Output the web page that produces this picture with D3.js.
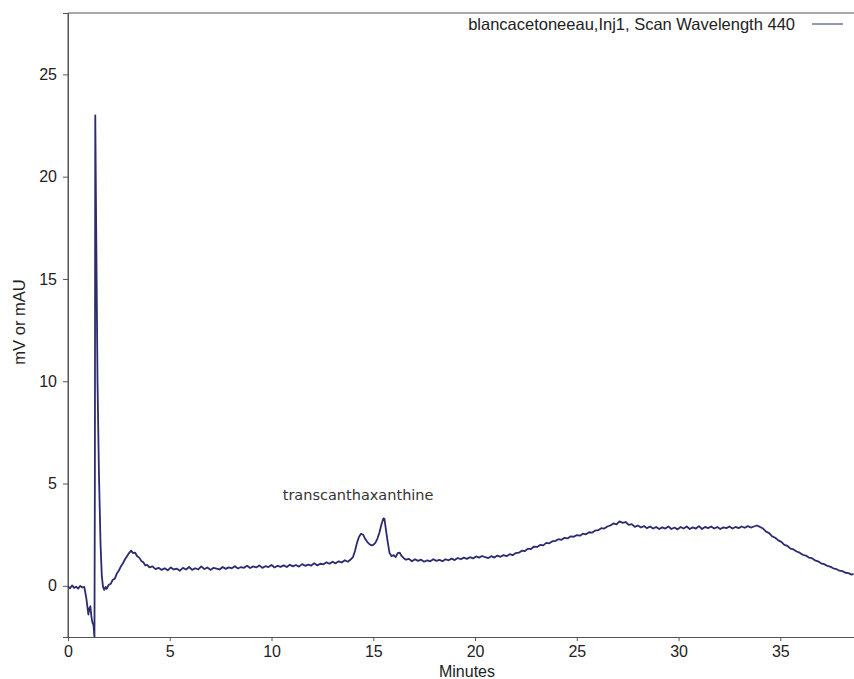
<!DOCTYPE html>
<html>
<head>
<meta charset="utf-8">
<script src="https://cdn.jsdelivr.net/npm/d3@7"></script>
<style>
  body { margin: 0; background: #fff; }
  svg { display: block; }
  .axis text { font-family: "Liberation Sans", Arial, sans-serif; font-size: 16px; fill: #222; }
  .axis path, .axis line { stroke: #555; }
</style>
</head>
<body>
<svg id="chart" width="854" height="679"></svg>
<script>
const xTicks = [0, 5, 10, 15, 20, 25, 30, 35];
const yTicks = [0, 5, 10, 15, 20, 25];
const xDomain = [0, 38.62];
const yDomain = [-2.5, 28];
const seriesName = "blancacetoneeau,Inj1, Scan Wavelength 440";
const peakLabel = "transcanthaxanthine";

// [minutes, mV]
const injection = [
  [0, -0.02], [0.1, -0.12], [0.2, 0.02], [0.3, -0.1], [0.4, -0.04], [0.5, -0.14],
  [0.6, 0.0], [0.7, -0.08], [0.8, -0.05], [0.9, -0.6], [1.0, -1.4], [1.05, -1.1],
  [1.1, -1.0], [1.15, -1.5], [1.2, -1.8], [1.25, -1.9], [1.3, -2.5], [1.32, 5],
  [1.34, 23.0], [1.38, 18], [1.45, 10], [1.52, 5.5], [1.6, 2], [1.66, 0.5],
  [1.72, -0.05], [1.78, -0.2], [1.85, -0.05], [1.9, -0.15], [2.0, 0.05]
];
const solventBump = [
  [2.1, 0.1], [2.2, 0.3], [2.3, 0.35], [2.4, 0.6], [2.5, 0.75], [2.6, 0.95], [2.7, 1.1],
  [2.8, 1.3], [2.9, 1.45], [3.0, 1.6], [3.1, 1.72], [3.2, 1.6], [3.3, 1.62], [3.4, 1.45],
  [3.5, 1.38], [3.6, 1.22], [3.7, 1.15], [3.8, 1.0], [3.9, 1.02], [4.0, 0.9], [4.15, 0.95],
  [4.3, 0.82]
];
const baseline = [
  [4.45, 0.88], [4.6, 0.78], [4.75, 0.86], [4.9, 0.76], [5.05, 0.9], [5.2, 0.8], [5.35, 0.84],
  [5.5, 0.74], [5.65, 0.88], [5.8, 0.8], [5.95, 0.92], [6.1, 0.78], [6.25, 0.86], [6.4, 0.8],
  [6.55, 0.95], [6.7, 0.82], [6.85, 0.9], [7.0, 0.78], [7.15, 0.88], [7.3, 0.84], [7.45, 0.8],
  [7.6, 0.92], [7.75, 0.83], [7.9, 0.9], [8.05, 0.86], [8.2, 0.96], [8.35, 0.85], [8.5, 0.92],
  [8.65, 0.88], [8.8, 0.98], [8.95, 0.87], [9.1, 0.95], [9.25, 0.9], [9.4, 1.0], [9.55, 0.88],
  [9.7, 0.96], [9.85, 0.92], [10.0, 1.02], [10.15, 0.9], [10.3, 0.98], [10.45, 0.93], [10.6, 1.0],
  [10.75, 0.92], [10.9, 1.03], [11.05, 0.95], [11.2, 1.02], [11.35, 0.94], [11.5, 1.06],
  [11.65, 0.98], [11.8, 1.04], [11.95, 0.99], [12.1, 1.1], [12.25, 1.0], [12.4, 1.08],
  [12.55, 1.05], [12.7, 1.15], [12.85, 1.08], [13.0, 1.18], [13.15, 1.1], [13.3, 1.2],
  [13.45, 1.14], [13.6, 1.25], [13.75, 1.18], [13.9, 1.3]
];
const carotenoidPeaks = [
  [14.0, 1.4], [14.1, 1.7], [14.2, 2.1], [14.3, 2.4], [14.4, 2.55], [14.5, 2.5], [14.6, 2.3],
  [14.7, 2.15], [14.8, 2.05], [14.9, 1.98], [15.0, 2.0], [15.1, 2.1], [15.2, 2.3], [15.3, 2.6],
  [15.4, 3.0], [15.5, 3.3], [15.55, 3.28], [15.6, 2.9], [15.7, 2.2], [15.8, 1.6], [15.9, 1.45],
  [16.0, 1.5], [16.1, 1.4], [16.2, 1.6], [16.3, 1.62], [16.4, 1.45], [16.5, 1.35], [16.6, 1.28]
];
const gradient = [
  [16.75, 1.32], [16.9, 1.2], [17.05, 1.3], [17.2, 1.22], [17.35, 1.28], [17.5, 1.18],
  [17.65, 1.25], [17.8, 1.2], [17.95, 1.3], [18.1, 1.22], [18.25, 1.27], [18.4, 1.2],
  [18.55, 1.3], [18.7, 1.25], [18.85, 1.33], [19.0, 1.26], [19.15, 1.36], [19.3, 1.3],
  [19.45, 1.38], [19.6, 1.32], [19.75, 1.4], [19.9, 1.34], [20.05, 1.44], [20.2, 1.38],
  [20.35, 1.46], [20.5, 1.4], [20.65, 1.36], [20.8, 1.45], [20.95, 1.38], [21.1, 1.48],
  [21.25, 1.42], [21.4, 1.5], [21.55, 1.45], [21.7, 1.55], [21.85, 1.5], [22.0, 1.6],
  [22.15, 1.62], [22.3, 1.72], [22.45, 1.7], [22.6, 1.82], [22.75, 1.8], [22.9, 1.92],
  [23.05, 1.9], [23.2, 2.0], [23.35, 1.98], [23.5, 2.1], [23.65, 2.08], [23.8, 2.18],
  [23.95, 2.2], [24.1, 2.28], [24.25, 2.25], [24.4, 2.35], [24.55, 2.32], [24.7, 2.42],
  [24.85, 2.4], [25.0, 2.48], [25.15, 2.45], [25.3, 2.55], [25.45, 2.52], [25.6, 2.62],
  [25.75, 2.6], [25.9, 2.7], [26.05, 2.72], [26.2, 2.82], [26.35, 2.8], [26.5, 2.9],
  [26.65, 2.95], [26.8, 3.05], [26.95, 3.0], [27.1, 3.15], [27.25, 3.08], [27.4, 3.12]
];
const plateau = [
  [27.55, 2.98], [27.7, 3.02], [27.85, 2.88], [28.0, 2.95], [28.15, 2.85], [28.3, 2.92],
  [28.45, 2.82], [28.6, 2.9], [28.75, 2.8], [28.9, 2.88], [29.05, 2.78], [29.2, 2.86],
  [29.35, 2.8], [29.5, 2.9], [29.65, 2.78], [29.8, 2.85], [29.95, 2.76], [30.1, 2.88],
  [30.25, 2.8], [30.4, 2.9], [30.55, 2.78], [30.7, 2.86], [30.85, 2.8], [31.0, 2.92],
  [31.15, 2.78], [31.3, 2.88], [31.45, 2.82], [31.6, 2.9], [31.75, 2.8], [31.9, 2.88],
  [32.05, 2.78], [32.2, 2.86], [32.35, 2.82], [32.5, 2.9], [32.65, 2.8], [32.8, 2.88],
  [32.95, 2.82], [33.1, 2.9], [33.25, 2.84], [33.4, 2.92], [33.55, 2.85], [33.7, 2.9],
  [33.85, 2.95], [34.0, 2.88]
];
const washout = [
  [34.15, 2.8], [34.3, 2.65], [34.45, 2.58], [34.6, 2.42], [34.75, 2.35], [34.9, 2.22],
  [35.05, 2.15], [35.2, 2.0], [35.35, 1.95], [35.5, 1.82], [35.65, 1.78], [35.8, 1.68],
  [35.95, 1.62], [36.1, 1.52], [36.25, 1.48], [36.4, 1.38], [36.55, 1.35], [36.7, 1.25],
  [36.85, 1.2], [37.0, 1.1], [37.15, 1.06], [37.3, 0.98], [37.45, 0.94], [37.6, 0.86],
  [37.75, 0.82], [37.9, 0.74], [38.05, 0.72], [38.2, 0.64], [38.35, 0.62], [38.5, 0.55],
  [38.6, 0.58]
];

const margin = {top: 13, right: 0, bottom: 42, left: 68};
const width = 854, height = 679;
const traceColor = "#2b2b6e";

let svg = d3.select("#chart");

let xScale = d3.scaleLinear().domain(xDomain).range([margin.left, width - margin.right]);
let yScale = d3.scaleLinear().domain(yDomain).range([height - margin.bottom, margin.top]);

let trace = [].concat(injection, solventBump, baseline, carotenoidPeaks, gradient, plateau, washout);

// frame: top and left edges
svg.append("path")
  .attr("d", "M" + xScale.range()[1] + "," + yScale.range()[1] + "H" + xScale.range()[0] + "V" + yScale.range()[0])
  .attr("fill", "none")
  .attr("stroke", "#555")
  .attr("stroke-width", 1);

svg.append("g")
  .attr("class", "axis axis-x")
  .attr("transform", "translate(0," + yScale.range()[0] + ")")
  .call(d3.axisBottom(xScale).tickValues(xTicks).tickSizeOuter(0).tickSize(4).tickPadding(5));

svg.append("g")
  .attr("class", "axis axis-y")
  .attr("transform", "translate(" + xScale.range()[0] + ",0)")
  .call(d3.axisLeft(yScale).tickValues(yTicks).tickSizeOuter(0).tickSize(5).tickPadding(6));

let clipId = "plot-clip";
svg.append("clipPath").attr("id", clipId)
  .append("rect")
  .attr("x", xScale.range()[0])
  .attr("y", yScale.range()[1])
  .attr("width", xScale.range()[1] - xScale.range()[0])
  .attr("height", yScale.range()[0] - yScale.range()[1]);

let line = d3.line()
  .x(function(d) { return xScale(d[0]); })
  .y(function(d) { return yScale(d[1]); });

svg.append("path")
  .datum(trace)
  .attr("clip-path", "url(#" + clipId + ")")
  .attr("fill", "none")
  .attr("stroke", traceColor)
  .attr("stroke-width", 1.8)
  .attr("stroke-linejoin", "round")
  .attr("d", line);

// axis titles
svg.append("text")
  .attr("x", 467)
  .attr("y", 677)
  .attr("text-anchor", "middle")
  .style("font-family", "Liberation Sans, Arial, sans-serif")
  .style("font-size", "16px")
  .style("fill", "#222")
  .text("Minutes");

svg.append("text")
  .attr("transform", "translate(25,322) rotate(-90)")
  .attr("text-anchor", "middle")
  .style("font-family", "Liberation Sans, Arial, sans-serif")
  .style("font-size", "16.5px")
  .style("fill", "#222")
  .text("mV or mAU");

// legend
svg.append("text")
  .attr("x", 795)
  .attr("y", 30)
  .attr("text-anchor", "end")
  .style("font-family", "Liberation Sans, Arial, sans-serif")
  .style("font-size", "16.5px")
  .style("fill", "#222")
  .text(seriesName);

svg.append("line")
  .attr("x1", 812).attr("x2", 843)
  .attr("y1", 24).attr("y2", 24)
  .attr("stroke", traceColor)
  .attr("stroke-width", 1);

// peak annotation
svg.append("text")
  .attr("x", xScale(10.55))
  .attr("y", yScale(4.2))
  .style("font-family", "DejaVu Sans, sans-serif")
  .style("font-size", "14.5px")
  .style("fill", "#333")
  .text(peakLabel);
</script>
</body>
</html>
